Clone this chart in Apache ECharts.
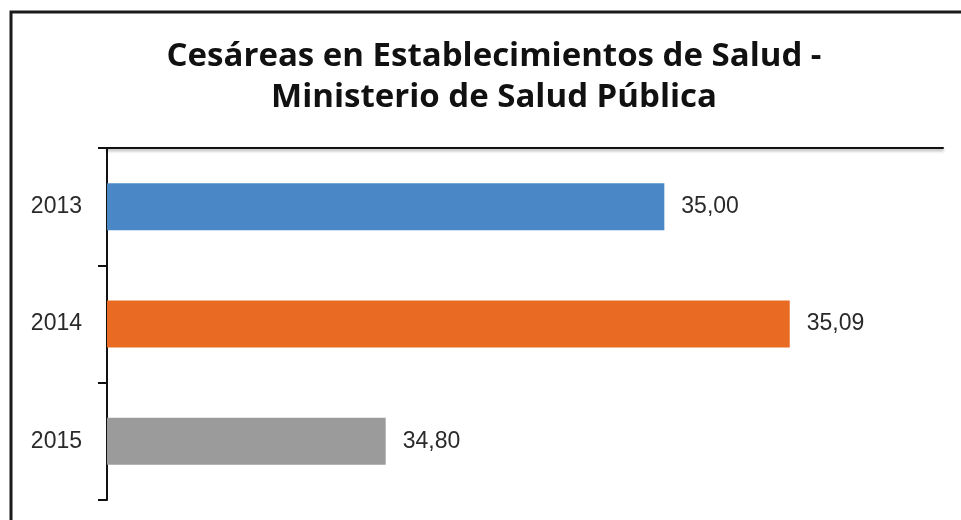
<!DOCTYPE html>
<html style="height:100%;width:100%;">

<head>
  <meta charset="utf-8">
  <title>Cesáreas</title>
  <script src="https://cdn.jsdelivr.net/npm/echarts@6/dist/echarts.min.js"></script>
</head>

<body style="margin:0px;height:100%;width:100%;background:#fff;">
  <div id="main" style="width:961px;height:520px"></div>
  <script type="text/javascript" charset="utf-8">
    // datos
    var years = ['2013', '2014', '2015'];
    var values = [35.00, 35.09, 34.80];
    var barColors = ['#4a87c6', '#e86a23', '#9b9b9b'];

    var myChart = echarts.init(document.getElementById('main'));

    var option = {
      backgroundColor: '#fff',
      animation: false,
      title: {
        text: 'Cesáreas en Establecimientos de Salud -\nMinisterio de Salud Pública',
        left: 494,
        top: 36,
        textAlign: 'center',
        padding: 0,
        textStyle: {
          fontFamily: 'Open Sans',
          fontWeight: 'bold',
          fontSize: 33,
          lineHeight: 41,
          color: '#111'
        }
      },
      // marco exterior
      graphic: [{
        type: 'rect',
        shape: { x: 11, y: 12, width: 1000, height: 600 },
        style: { fill: 'none', stroke: '#1a1a1a', lineWidth: 3 },
        silent: true
      }],
      grid: {
        left: 107,
        right: 18,
        top: 148,
        bottom: 20
      },
      xAxis: {
        type: 'value',
        position: 'top',
        min: 34.6,
        max: 35.2,
        axisLine: {
          show: true,
          lineStyle: {
            color: '#111',
            width: 2,
            shadowColor: 'rgba(0,0,0,0.35)',
            shadowBlur: 3,
            shadowOffsetY: 2
          }
        },
        axisTick: { show: false },
        axisLabel: { show: false },
        splitLine: { show: false }
      },
      yAxis: {
        type: 'category',
        inverse: true,
        data: years,
        axisLine: { lineStyle: { color: '#111', width: 2 } },
        axisTick: { show: true, length: 9, lineStyle: { color: '#111', width: 2 } },
        axisLabel: {
          margin: 25,
          fontFamily: 'Liberation Sans',
          fontSize: 23,
          color: '#2a2a2a'
        }
      },
      series: [{
        type: 'bar',
        data: values,
        barWidth: '40%',
        itemStyle: {
          color: function (p) { return barColors[p.dataIndex]; }
        },
        label: {
          show: true,
          position: 'right',
          distance: 17,
          fontFamily: 'Liberation Sans',
          fontSize: 23,
          color: '#2a2a2a',
          formatter: function (p) { return p.value.toFixed(2).replace('.', ','); }
        }
      }]
    };

    myChart.setOption(option);
  </script>
</body>

</html>
